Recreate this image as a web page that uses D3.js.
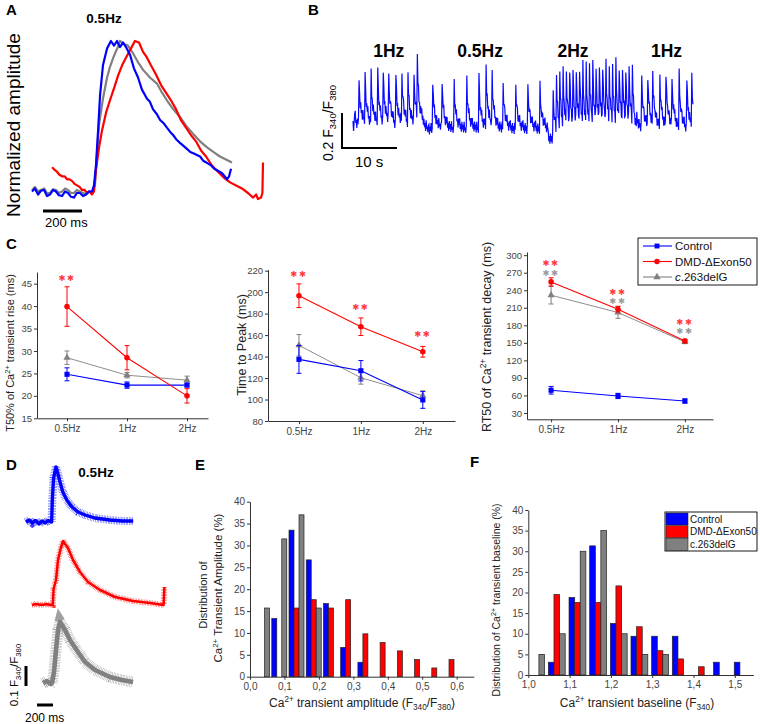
<!DOCTYPE html>
<html><head><meta charset="utf-8">
<script src="https://cdn.jsdelivr.net/npm/d3@7"></script>
<style>body{margin:0;background:#fff}svg{display:block}</style>
</head><body>
<svg id="fig" width="760" height="724"></svg>
<script>
// ================= DATA =================
const freqLabels = ["0.5Hz", "1Hz", "2Hz"];
const groupNames = ["Control", "DMD-ΔExon50", "c.263delG"];
const groupColors = ["#0000ff", "#ff0000", "#808080"];

// Panel A: normalized transients at 0.5Hz, [time (ms), normalized amplitude]
const aControl = [[0,0.01],[15,0.03],[31,-0.01],[46,0.015],[62,0.02],[77,-0.02],[92,-0.01],[108,0.02],[123,0.01],[138,-0.015],[154,-0.02],[170,0.01],[185,0],[200,-0.025],[215,-0.03],[230,0.0],[246,0],[262,-0.02],[277,-0.01],[292,0.01],[308,0.01],[318,0.05],[328,0.18],[339,0.41],[349,0.64],[364,0.84],[385,0.95],[405,1.0],[421,0.97],[436,1.0],[451,0.96],[467,0.99],[482,0.96],[503,0.91],[523,0.82],[544,0.76],[564,0.68],[590,0.62],[605,0.60],[621,0.55],[640,0.52],[657,0.48],[675,0.46],[692,0.43],[710,0.40],[725,0.38],[742,0.35],[759,0.33],[777,0.31],[795,0.29],[812,0.27],[830,0.26],[846,0.25],[862,0.24],[880,0.21],[895,0.20],[908,0.19],[920,0.18],[935,0.16],[949,0.15],[962,0.14],[975,0.13],[988,0.11],[1000,0.09],[1011,0.11],[1021,0.16]];
const aDmd = [[103,0.17],[118,0.15],[128,0.14],[141,0.12],[154,0.11],[167,0.11],[180,0.09],[193,0.09],[205,0.08],[218,0.06],[231,0.05],[244,0.04],[257,0.02],[270,0.02],[282,0],[295,0.01],[308,-0.01],[318,0.01],[328,0.15],[344,0.30],[359,0.41],[380,0.53],[400,0.61],[421,0.69],[441,0.77],[462,0.84],[482,0.89],[503,0.94],[528,1.0],[549,0.99],[569,0.93],[590,0.89],[610,0.84],[636,0.78],[662,0.71],[687,0.66],[713,0.61],[739,0.55],[764,0.48],[790,0.43],[816,0.38],[841,0.34],[867,0.28],[893,0.24],[923,0.18],[954,0.14],[985,0.10],[1016,0.07],[1047,0.05],[1077,0.03],[1108,0],[1134,-0.03],[1150,-0.01],[1159,-0.04],[1175,-0.03],[1182,0.0],[1185,0.20]];
const aC263 = [[0,0.02],[15,0.04],[31,0.01],[46,0.02],[62,0.03],[77,0.0],[92,0],[108,0.025],[123,0.02],[138,0.0],[154,0.01],[170,0.03],[185,0.02],[200,0.0],[215,0],[230,0.02],[246,0.01],[262,0.0],[277,-0.01],[292,0.01],[308,0],[323,0.05],[333,0.25],[344,0.45],[364,0.62],[385,0.76],[400,0.83],[420,0.90],[440,0.96],[451,1.0],[472,0.98],[492,0.97],[518,0.92],[544,0.86],[570,0.81],[605,0.76],[641,0.72],[667,0.66],[692,0.61],[725,0.55],[759,0.50],[792,0.44],[826,0.39],[862,0.34],[898,0.30],[930,0.27],[964,0.24],[995,0.22],[1026,0.20]];

// Panel B: paced recording (seconds, F340/F380)
const bBeatTimes = [0.3,1.1,2.2,3.3,4.5,5.5,6.5,7.8,8.9,10.0,11.1,11.7,
  14.5,16.2,18.4,20.7,22.9,24.2,25.3,27.3,29.6,31.8,34.0,
  36.4,37.0,37.6,38.2,38.8,39.4,40.0,40.6,41.2,41.8,42.4,43.0,43.6,44.2,44.8,45.4,46.0,46.6,47.2,47.8,48.4,49.0,49.6,50.2,50.8,
  52.5,53.6,54.5,55.8,56.9,58.0,59.3,60.7,61.6];
const bBeatAmps = [0.08,0.27,0.26,0.27,0.29,0.28,0.27,0.28,0.27,0.26,0.27,0.33,
  0.29,0.28,0.26,0.28,0.30,0.34,0.28,0.26,0.25,0.26,0.24,
  0.28,0.29,0.28,0.30,0.29,0.30,0.31,0.30,0.31,0.32,0.31,0.32,0.33,0.32,0.33,0.32,0.33,0.31,0.32,0.33,0.32,0.33,0.31,0.32,0.31,
  0.30,0.29,0.28,0.29,0.30,0.28,0.29,0.27,0.25];
const bSegments = [[0,12.9,1.005],[12.9,35.5,0.985],[35.5,51.6,0.93],[51.6,62.5,0.985]];
const bBeatShape = [1.0,0.62,0.46,0.37,0.30,0.25,0.21,0.18,0.15,0.13,0.11,0.09,0.08,0.07,0.06,0.05,0.04,0.03,0.02,0.01];
const bNoise = [0.024,-0.034,0.012,-0.015,0.032,-0.024,0.0,-0.04,0.018,-0.012,0.03,-0.026,0.006,-0.036,0.024,-0.018,0.012,-0.03,0.034,-0.006,0.0,-0.024,0.018];
const bFreqText = [[6.5,"1Hz"],[23.1,"0.5Hz"],[40,"2Hz"],[57,"1Hz"]];

// Panel C
const t50Control = [24.8,22.4,22.4], t50ControlErr = [1.45,0.7,0.4];
const t50Dmd = [39.9,28.5,20.0], t50DmdErr = [4.4,2.7,1.6];
const t50C263 = [28.5,24.6,23.5], t50C263Err = [1.5,0.6,0.9];
const ttpControl = [137.4,126.8,99.6], ttpControlErr = [13,9.5,7.8];
const ttpDmd = [196.7,167.8,144.5], ttpDmdErr = [11,8.2,5];
const ttpC263 = [150.5,120.3,103.6], ttpC263Err = [10,6,4.5];
const rt50Control = [68.9,59.1,50.5], rt50ControlErr = [6.5,4.5,3.5];
const rt50Dmd = [254.3,207.6,153.3], rt50DmdErr = [7,5,3];
const rt50C263 = [231.5,201.9,151.6], rt50C263Err = [15,10,3];
// significance marks: [freq index, value position, group]
const t50Stars = [[0,46.3,1]];
const ttpStars = [[0,216.9,1],[1,186.1,1],[2,161,1]];
const rt50Stars = [[0,286.3,1],[0,269.2,2],[1,236.7,1],[1,221.3,2],[2,185.3,1],[2,169.9,2]];

// Panel D: single transients at 0.5Hz [ms, ΔF340/F380]
const dControl = [[0,0],[40,0.01],[80,-0.005],[120,0.008],[160,-0.01],[200,0.005],[240,-0.005],[280,0.008],[320,0],[330,0.12],[345,0.22],[375,0.275],[400,0.24],[425,0.2],[460,0.15],[510,0.11],[575,0.075],[650,0.05],[740,0.035],[860,0.02],[1050,0.01],[1200,0.005],[1340,0.005]];
const dDmd = [[75,0],[120,0.005],[200,0],[260,0.005],[300,0],[335,0],[345,0.08],[375,0.125],[400,0.225],[435,0.285],[463,0.32],[525,0.285],[588,0.225],[675,0.165],[775,0.115],[925,0.075],[1113,0.04],[1338,0.02],[1550,0.01],[1720,0],[1730,0.09]];
const dC263 = [[213,0],[260,0.01],[310,-0.005],[325,0],[350,0.055],[375,0.165],[400,0.265],[425,0.305],[488,0.265],[550,0.215],[650,0.155],[738,0.105],[863,0.065],[1050,0.03],[1200,0.015],[1338,0.005]];

// Panel E: amplitude distribution (%), bins of 0.05
const eBins = [0.035,0.085,0.135,0.185,0.235,0.285,0.335,0.385,0.435,0.485,0.535,0.585];
const eControl = [0,13.3,33.5,26.7,16.7,6.7,3.3,0,0,0,0,0];
const eDmd = [0,0,15.7,17.6,15.7,17.6,9.8,7.8,5.9,3.9,2.0,3.9];
const eC263 = [15.7,31.5,37.0,15.7,0,0,0,0,0,0,0,0];

// Panel F: baseline distribution (%)
const fBins = [1.019,1.069,1.119,1.169,1.219,1.269,1.319,1.369,1.419,1.469,1.519];
const fControl = [0,3.1,18.8,31.3,12.5,9.4,9.4,9.4,0,3.1,3.1];
const fDmd = [0,19.5,17.6,17.6,21.6,11.7,5.9,3.9,2.0,0,0];
const fC263 = [5,10,30,35,10,5,5,0,0,0,0];

// ================= DRAW =================
const svg = d3.select("#fig");
const FONT = "'Liberation Sans', Arial, Helvetica, sans-serif";

function rich(t, segs, fs) {
  let shift = 0;
  segs.forEach(s => {
    const sp = t.append("tspan").text(s[0]);
    let target = 0;
    if (s[1] === "sup") { sp.attr("font-size", fs * 0.68); target = -fs * 0.38; }
    else if (s[1] === "sub") { sp.attr("font-size", fs * 0.68); target = fs * 0.22; }
    else if (s[1] === "it") { sp.attr("font-style", "italic"); }
    const dy = target - shift;
    if (dy !== 0) sp.attr("dy", dy);
    shift = target;
  });
}
function addText(x, y, segs, o = {}) {
  const fs = o.size || 12;
  const t = svg.append("text").attr("x", x).attr("y", y)
    .attr("font-family", o.family || FONT).attr("font-size", fs)
    .attr("fill", o.fill || "#000").attr("text-anchor", o.anchor || "start");
  if (o.weight) t.attr("font-weight", o.weight);
  if (o.spacing) t.attr("letter-spacing", o.spacing);
  if (o.rotate) t.attr("transform", `rotate(${o.rotate},${x},${y})`);
  if (typeof segs === "string") segs = [[segs]];
  rich(t, segs, fs);
  return t;
}
function bar(x1, y1, x2, y2, w) {
  svg.append("line").attr("x1", x1).attr("y1", y1).attr("x2", x2).attr("y2", y2)
    .attr("stroke", "#000").attr("stroke-width", w);
}

// panel letters
[["A",6,15],["B",308,15],["C",6,249],["D",6,470],["E",195,470],["F",470,467]].forEach(d =>
  addText(d[1], d[2], d[0], {size: 15, weight: "bold"}));

// ---- Panel A ----
const xA = d3.scaleLinear().domain([0, 1200]).range([32, 32 + 1200 / 5.13]);
const yA = d3.scaleLinear().domain([0, 1]).range([193, 41]);
const lineA = d3.line().x(d => xA(d[0])).y(d => yA(d[1]));
[[aC263, groupColors[2]], [aDmd, groupColors[1]], [aControl, groupColors[0]]].forEach(([d, c]) =>
  svg.append("path").attr("d", lineA(d)).attr("fill", "none").attr("stroke", c)
    .attr("stroke-width", 2.2).attr("stroke-linejoin", "round"));
addText(104, 23, "0.5Hz", {size: 13.5, weight: "bold", anchor: "middle"});
addText(20, 125, "Normalized amplitude", {size: 19, anchor: "middle", rotate: -90});
bar(43, 211, 43 + xA(200) - xA(0), 211, 3);
addText(45, 227, "200 ms", {size: 13});

// ---- Panel B ----
const xB = d3.scaleLinear().domain([0, 62]).range([353, 353 + 62 * 5.5]);
const yB = d3.scaleLinear().domain([1.0, 1.2]).range([126, 91]);
const dtB = 0.1, nB = Math.round(61.8 / dtB) + 1;
const bTrace = d3.range(nB).map(i => {
  const t = i * dtB;
  const seg = bSegments.find(s => t >= s[0] && t < s[1]) || bSegments[bSegments.length - 1];
  return [t, seg[2] + bNoise[i % bNoise.length]];
});
bBeatTimes.forEach((tb, j) => {
  const k = Math.round(tb / dtB);
  bBeatShape.forEach((s, m) => { if (k + m < nB) bTrace[k + m][1] += bBeatAmps[j] * s; });
});
svg.append("path").attr("d", d3.line().x(d => xB(d[0])).y(d => yB(d[1]))(bTrace))
  .attr("fill", "none").attr("stroke", "#0a0aff").attr("stroke-width", 1.2);
bFreqText.forEach(d => addText(xB(d[0]), 57, d[1], {size: 17.5, weight: "bold", anchor: "middle"}));
const sbx = 342, sby = 148;
bar(sbx, sby + 1, sbx, sby - (yB(1.0) - yB(1.2)), 2);
bar(sbx - 1, sby, sbx + xB(10) - xB(0), sby, 2);
addText(355, 167, "10 s", {size: 15});
addText(333, 123, [["0.2 F"],["340","sub"],["/F"],["380","sub"]], {size: 14, anchor: "middle", rotate: -90});

// ---- Panel C ----
function linePanel(cfg) {
  const x = d3.scaleLinear().domain(cfg.idx).range(cfg.xr);
  const y = d3.scaleLinear().domain(cfg.yd).range(cfg.yr);
  const gx = svg.append("g").attr("transform", `translate(0,${cfg.yr[0]})`)
    .call(d3.axisBottom(x).tickValues([0, 1, 2]).tickFormat(i => freqLabels[i]).tickSize(3).tickSizeOuter(0).tickPadding(4));
  const gy = svg.append("g").attr("transform", `translate(${cfg.xr[0]},0)`)
    .call(d3.axisLeft(y).tickValues(cfg.ticks).tickSize(3).tickSizeOuter(0).tickPadding(2));
  [gx, gy].forEach(g => {
    g.selectAll("path,line").attr("stroke", "#333");
    g.selectAll("text").attr("font-family", FONT).attr("font-size", 9.5).attr("fill", "#444");
  });
  gx.selectAll("text").attr("font-size", 10);
  const symbols = [d3.symbolSquare, d3.symbolCircle, d3.symbolTriangle];
  const sizes = [26, 24, 22];
  [2, 0, 1].forEach(gi => {
    const m = cfg.means[gi], e = cfg.errs[gi], c = groupColors[gi];
    const pts = m.map((v, i) => [i, v]);
    svg.append("path").attr("d", d3.line().x(d => x(d[0])).y(d => y(d[1]))(pts))
      .attr("fill", "none").attr("stroke", c).attr("stroke-width", gi === 2 ? 0.9 : 1.1);
    pts.forEach(([i, v]) => {
      const cx = x(i);
      svg.append("line").attr("x1", cx).attr("x2", cx).attr("y1", y(v - e[i])).attr("y2", y(v + e[i])).attr("stroke", c).attr("stroke-width", 1);
      [v - e[i], v + e[i]].forEach(w => svg.append("line").attr("x1", cx - 2.5).attr("x2", cx + 2.5)
        .attr("y1", y(w)).attr("y2", y(w)).attr("stroke", c).attr("stroke-width", 1));
      svg.append("path").attr("d", d3.symbol(symbols[gi], sizes[gi])())
        .attr("transform", `translate(${cx},${y(v)})`).attr("fill", c);
    });
  });
  // significance stars (compact heavy asterisks so stacked marks do not collide)
  cfg.stars.forEach(([i, v, gi]) => addText(x(i), y(v) + 3.2, "✱✱",
    {size: 8.4, anchor: "middle", family: "'DejaVu Sans', sans-serif", spacing: 1.6,
     fill: gi === 1 ? "#ff3a3a" : "#9a9a9a"}));
  addText(cfg.lab[0], cfg.lab[1], cfg.lab[2], {size: cfg.lab[3], anchor: "middle", rotate: -90, fill: "#222"});
  return {x, y};
}
linePanel({idx: [-0.5, 2.35], xr: [37, 208], yd: [15, 47.6], yr: [418.3, 272], ticks: d3.range(15, 46, 5),
  means: [t50Control, t50Dmd, t50C263], errs: [t50ControlErr, t50DmdErr, t50C263Err], stars: t50Stars,
  lab: [14, 353, [["T50% of Ca"],["2+","sup"],[" transient rise (ms)"]], 11]});
linePanel({idx: [-0.5, 2.52], xr: [268, 455], yd: [80, 221], yr: [421, 269.6], ticks: d3.range(80, 221, 20),
  means: [ttpControl, ttpDmd, ttpC263], errs: [ttpControlErr, ttpDmdErr, ttpC263Err], stars: ttpStars,
  lab: [246, 345, "Time to Peak (ms)", 12.5]});
linePanel({idx: [-0.36, 2.42], xr: [527, 713], yd: [19.2, 305.6], yr: [419.3, 251.9], ticks: d3.range(30, 301, 30),
  means: [rt50Control, rt50Dmd, rt50C263], errs: [rt50ControlErr, rt50DmdErr, rt50C263Err], stars: rt50Stars,
  lab: [491, 337, [["RT50 of Ca"],["2+","sup"],[" transient decay (ms)"]], 12.5]});
// legend C
svg.append("rect").attr("x", 638).attr("y", 238).attr("width", 119).attr("height", 47)
  .attr("fill", "#fff").attr("stroke", "#000").attr("stroke-width", 0.9);
const legSyms = [d3.symbolSquare, d3.symbolCircle, d3.symbolTriangle];
groupNames.forEach((n, i) => {
  const yy = 246 + i * 15.5;
  svg.append("line").attr("x1", 643).attr("x2", 672).attr("y1", yy).attr("y2", yy).attr("stroke", groupColors[i]).attr("stroke-width", 1.1);
  svg.append("path").attr("d", d3.symbol(legSyms[i], 24)()).attr("transform", `translate(657,${yy})`).attr("fill", groupColors[i]);
  const segs = i === 2 ? [["c","it"],[".263delG"]] : [[n]];
  addText(675, yy + 4.2, segs, {size: 11.5, fill: "#111"});
});

// ---- Panel D ----
const xD = d3.scaleLinear().domain([0, 1800]).range([26, 170]);
const yDd = d3.scaleLinear().domain([0, 0.1]).range([0, -20]);
[[dControl, 522, 0, 8], [dDmd, 605, 1, 6], [dC263, 683, 2, 11]].forEach(([d, base, gi, w]) => {
  const ln = d3.line().x(p => xD(p[0])).y(p => base + yDd(p[1]));
  // noisy band rendered as a fine dashed thick stroke
  svg.append("path").attr("d", ln(d)).attr("fill", "none").attr("stroke", groupColors[gi])
    .attr("stroke-width", w).attr("stroke-dasharray", "0.5 1.1").attr("stroke-opacity", 0.75);
  svg.append("path").attr("d", ln(d)).attr("fill", "none").attr("stroke", groupColors[gi])
    .attr("stroke-width", w * 0.42).attr("stroke-linejoin", "round");
});
addText(96, 477, "0.5Hz", {size: 13.5, weight: "bold", anchor: "middle"});
bar(26, 686, 26, 686 + yDd(0.1), 3);
bar(37, 705, 37 + xD(200) - xD(0), 705, 3);
addText(25, 722, "200 ms", {size: 12});
addText(18, 675, [["0.1 F"],["340","sub"],["/F"],["380","sub"]], {size: 11.5, anchor: "middle", rotate: -90});

// ---- Histograms ----
function histPanel(cfg) {
  const x = d3.scaleLinear().domain(cfg.xd).range(cfg.xr);
  const y = d3.scaleLinear().domain([0, 40]).range(cfg.yr);
  const fmt = d => d3.format(".1f")(d).replace(".", ",");
  const gx = svg.append("g").attr("transform", `translate(0,${cfg.yr[0]})`)
    .call(d3.axisBottom(x).tickValues(cfg.xt).tickFormat(fmt).tickSize(3).tickSizeOuter(0).tickPadding(3));
  const gy = svg.append("g").attr("transform", `translate(${cfg.xr[0]},0)`)
    .call(d3.axisLeft(y).tickValues(d3.range(0, 41, 5)).tickSize(3).tickSizeOuter(0).tickPadding(2));
  [gx, gy].forEach(g => {
    g.selectAll("path,line").attr("stroke", "#333");
    g.selectAll("text").attr("font-family", FONT).attr("font-size", 10).attr("fill", "#444");
  });
  const bw = x(cfg.bw) - x(0);
  cfg.series.forEach((vals, gi) => {
    vals.forEach((v, i) => {
      if (v <= 0) return;
      const cx = x(cfg.bins[i] + (gi - 1) * cfg.off);
      svg.append("rect").attr("x", cx - bw / 2).attr("y", y(v)).attr("width", bw).attr("height", y(0) - y(v))
        .attr("fill", groupColors[gi]).attr("stroke", "#222").attr("stroke-width", 0.7);
    });
  });
  return {x, y};
}
histPanel({xd: [0, 0.65], xr: [250, 473.9], yr: [676.7, 501.7], xt: d3.range(0, 0.61, 0.1),
  bins: eBins, series: [eControl, eDmd, eC263], bw: 0.0145, off: 0.0145});
addText(207, 595, "Distribution of", {size: 11, anchor: "middle", rotate: -90, fill: "#222"});
addText(222, 588, [["Ca"],["2+","sup"],[" Transient Amplitude (%)"]], {size: 11.5, anchor: "middle", rotate: -90, fill: "#222"});
addText(362, 707, [["Ca"],["2+","sup"],[" transient amplitude (F"],["340","sub"],["/F"],["380","sub"],[")"]], {size: 12, anchor: "middle", fill: "#222"});

histPanel({xd: [1.0, 1.545], xr: [528.3, 753.4], yr: [675, 510], xt: d3.range(1.0, 1.51, 0.1),
  bins: fBins, series: [fControl, fDmd, fC263], bw: 0.0137, off: 0.0135});
addText(500, 600, [["Distribution of Ca"],["2+","sup"],[" transient baseline (%)"]], {size: 10.5, anchor: "middle", rotate: -90, fill: "#222"});
addText(637, 707, [["Ca"],["2+","sup"],[" transient baseline (F"],["340","sub"],[")"]], {size: 12, anchor: "middle", fill: "#222"});
// legend F
svg.append("rect").attr("x", 665).attr("y", 512).attr("width", 92).attr("height", 39)
  .attr("fill", "#fff").attr("stroke", "#000").attr("stroke-width", 0.9);
groupNames.forEach((n, i) => {
  svg.append("rect").attr("x", 666).attr("y", 513 + i * 12.7).attr("width", 22).attr("height", 12)
    .attr("fill", groupColors[i]).attr("stroke", "#222").attr("stroke-width", 0.6);
  addText(690, 522.5 + i * 12.7, n, {size: 10, fill: "#111"});
});
</script>
</body></html>
